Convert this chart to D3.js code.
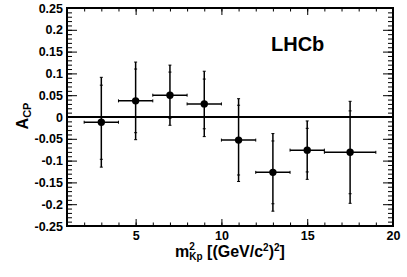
<!DOCTYPE html>
<html><head><meta charset="utf-8">
<script src="https://cdn.jsdelivr.net/npm/d3@7"></script>
<style>
html,body{margin:0;padding:0;background:#fff;}
svg{display:block;}
text{font-family:"Liberation Sans",Arial,Helvetica,sans-serif;font-weight:bold;}
</style></head>
<body>
<svg id="c" width="407" height="277"></svg>
<script>
// data
const xCenter = [3, 5, 7, 9, 11, 13, 15, 17.5];
const xLow    = [2, 4, 6, 8, 10, 12, 14, 16];
const xHigh   = [4, 6, 8, 10, 12, 14, 16, 19];
const acp     = [-0.012, 0.037, 0.050, 0.030, -0.053, -0.127, -0.076, -0.081];
const statErr = [0.085, 0.073, 0.053, 0.057, 0.080, 0.072, 0.050, 0.095];
const totErr  = [0.103, 0.089, 0.069, 0.075, 0.095, 0.089, 0.067, 0.117];
const xMajor  = [5, 10, 15, 20];
const xMinor  = d3.range(1, 21, 1);
const yMajor  = [-0.25, -0.2, -0.15, -0.1, -0.05, 0, 0.05, 0.1, 0.15, 0.2, 0.25];
const yMinor  = d3.range(-25, 26, 1).map(v => v / 100);
const yLabels = ["-0.25","-0.2","-0.15","-0.1","-0.05","0","0.05","0.1","0.15","0.2","0.25"];

const L = 67, R = 393, T = 8, B = 226;
const svg = d3.select("#c");
const x = d3.scaleLinear().domain([1, 20]).range([L, R]);
const y = d3.scaleLinear().domain([-0.25, 0.25]).range([B, T]);

const fmtY = d => yLabels[yMajor.findIndex(v => Math.abs(v - d) < 1e-9)];

function styleAxis(g) {
  g.select(".domain").remove();
  g.selectAll(".tick line").attr("stroke", "#000").attr("stroke-width", 1);
  g.selectAll("text").attr("fill", "#000").attr("font-size", 12.5);
}

// left axis
svg.append("g").attr("transform", `translate(${L},0)`)
  .call(d3.axisLeft(y).tickValues(yMinor).tickSize(-5).tickFormat(""))
  .call(styleAxis);
svg.append("g").attr("transform", `translate(${L},0)`)
  .call(d3.axisLeft(y).tickValues(yMajor).tickSize(-10).tickPadding(4).tickFormat(fmtY))
  .call(styleAxis);
// right axis
svg.append("g").attr("transform", `translate(${R},0)`)
  .call(d3.axisRight(y).tickValues(yMinor).tickSize(-5).tickFormat(""))
  .call(styleAxis);
svg.append("g").attr("transform", `translate(${R},0)`)
  .call(d3.axisRight(y).tickValues(yMajor).tickSize(-10).tickFormat(""))
  .call(styleAxis);
// bottom axis
svg.append("g").attr("transform", `translate(0,${B})`)
  .call(d3.axisBottom(x).tickValues(xMinor).tickSize(-3.5).tickFormat(""))
  .call(styleAxis);
svg.append("g").attr("transform", `translate(0,${B})`)
  .call(d3.axisBottom(x).tickValues(xMajor).tickSize(-7).tickPadding(5).tickFormat(d3.format("d")))
  .call(styleAxis);
// top axis
svg.append("g").attr("transform", `translate(0,${T})`)
  .call(d3.axisTop(x).tickValues(xMinor).tickSize(-3.5).tickFormat(""))
  .call(styleAxis);
svg.append("g").attr("transform", `translate(0,${T})`)
  .call(d3.axisTop(x).tickValues(xMajor).tickSize(-7).tickFormat(""))
  .call(styleAxis);

// frame
svg.append("rect").attr("x", L).attr("y", T).attr("width", R - L).attr("height", B - T)
  .attr("fill", "none").attr("stroke", "#000").attr("stroke-width", 2);

// zero line
svg.append("line").attr("x1", x(1)).attr("x2", x(20)).attr("y1", y(0)).attr("y2", y(0))
  .attr("stroke", "#000").attr("stroke-width", 2);

// points
const data = xCenter.map((c, i) => ({c, lo: xLow[i], hi: xHigh[i], v: acp[i], s: statErr[i], t: totErr[i]}));
const pts = svg.append("g").attr("stroke", "#000").attr("stroke-width", 1.5);
data.forEach(d => {
  const cx = x(d.c), cy = y(d.v);
  pts.append("line").attr("x1", x(d.lo)).attr("x2", x(d.hi)).attr("y1", cy).attr("y2", cy);
  [d.lo, d.hi].forEach(e => pts.append("line").attr("x1", x(e)).attr("x2", x(e))
    .attr("y1", cy - 1.5).attr("y2", cy + 1.5).attr("stroke-width", 1));
  pts.append("line").attr("x1", cx).attr("x2", cx).attr("y1", y(d.v + d.t)).attr("y2", y(d.v - d.t));
  [d.v + d.t, d.v - d.t, d.v + d.s, d.v - d.s].forEach(e =>
    pts.append("line").attr("x1", cx - 1.5).attr("x2", cx + 1.5).attr("y1", y(e)).attr("y2", y(e))
      .attr("stroke-width", 1));
  svg.append("circle").attr("cx", cx).attr("cy", cy).attr("r", 3.7).attr("fill", "#000");
});

// LHCb label
svg.append("text").attr("x", 271).attr("y", 51).attr("font-size", 20).attr("fill", "#000").text("LHCb");

// y title
const yt = svg.append("text").attr("transform", `translate(28,${(T + B) / 2 - 1}) rotate(-90)`)
  .attr("text-anchor", "middle").attr("font-size", 16).attr("fill", "#000");
yt.append("tspan").text("A");
yt.append("tspan").attr("font-size", 11).attr("dy", 3).text("CP");

// x title
const xt = svg.append("text").attr("x", (L + R) / 2).attr("y", 257)
  .attr("text-anchor", "middle").attr("font-size", 16).attr("fill", "#000");
xt.append("tspan").text("m");
xt.append("tspan").attr("font-size", 10).attr("dy", -7).text("2");
xt.append("tspan").attr("font-size", 10).attr("dx", -5.6).attr("dy", 10).text("Kp");
xt.append("tspan").attr("dy", -3).text(" [(GeV/c");
xt.append("tspan").attr("font-size", 10).attr("dy", -6).text("2");
xt.append("tspan").attr("dy", 6).text(")");
xt.append("tspan").attr("font-size", 10).attr("dy", -6).text("2");
xt.append("tspan").attr("dy", 6).text("]");
</script>
</body></html>
